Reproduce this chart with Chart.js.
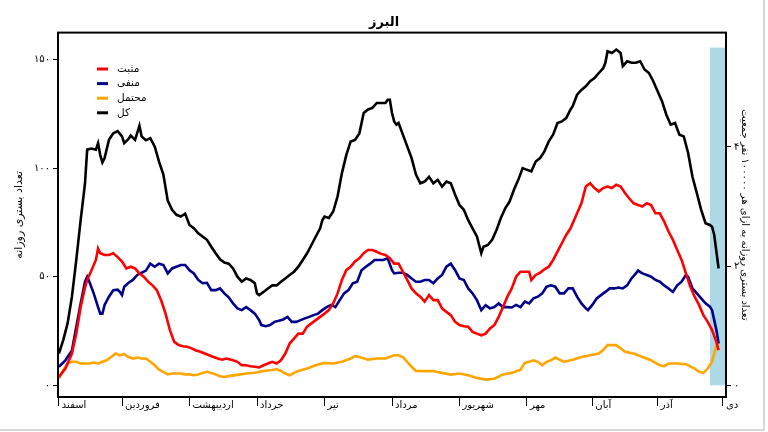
<!DOCTYPE html>
<html>
<head>
<meta charset="utf-8">
<script src="https://cdn.jsdelivr.net/npm/chart.js@4.4.0/dist/chart.umd.min.js"></script>
<style>
  html, body { margin: 0; padding: 0; background: #ffffff; }
  #wrap { width: 768px; height: 432px; position: relative; }
</style>
</head>
<body>
<div id="wrap"><canvas id="c" width="768" height="432"></canvas></div>
<script>
// ---- Data ----
const chartTitle = 'البرز';
const seriesLabels = ['مثبت', 'منفی', 'محتمل', 'کل'];
const seriesColors = ['#ff0000', '#00008b', '#ffa500', '#000000'];

const monthStartDays = [0, 29, 60, 91, 122, 153, 184, 215, 245, 275, 305];
const monthLabels = ['اسفند', 'فروردین', 'اردیبهشت', 'خرداد', 'تیر', 'مرداد', 'شهریور', 'مهر', 'آبان', 'آذر', 'دی'];

const leftTickValues = [0, 50, 100, 150];
const leftTickLabels = ['۰', '۵۰', '۱۰۰', '۱۵۰'];
const rightTickValues = [0, 2, 4];
const rightTickLabels = ['۰', '۲', '۴'];
const leftAxisTitle = 'تعداد بستری روزانه';
const rightAxisTitle = 'تعداد بستری روزانه به ازای هر ۱۰۰۰۰۰ نفر جمعیت';

const shadeStartDay = 299;
const shadeTopValue = 155.5;

const positiveDays = [0,3,6,8,10,12,13,15,17,18,19,21,23,25,27,29,31,33,35,37,39,41,43,45,47,49,51,53,55,57,59,61,63,65,67,69,71,73,75,77,80,82,84,86,88,90,92,94,96,98,100,102,104,106,108,110,112,114,116,118,120,122,124,126,128,130,132,134,136,138,140,142,144,146,148,150,152,154,156,158,160,162,164,166,168,170,172,174,176,178,180,182,184,186,188,190,192,194,196,198,200,202,204,206,208,210,212,214,216,217,219,221,223,225,227,229,231,233,235,236,238,240,242,244,246,248,250,252,254,256,258,260,262,264,266,268,270,272,274,276,278,280,282,284,286,288,290,292,294,296,298,300,302,303];
const positiveValues = [3.8,7.7,14.6,23.8,36,45,48.5,53,57.7,63,60.8,60,60,60.8,59,57,53.8,54.6,53.8,51.5,50,47.7,46,43.8,39,33,25.4,20,18.5,18,17.7,17,16,15.4,14.6,13.8,13,12.3,11.8,12.3,11.5,10.8,9.2,9.2,8.8,8.5,8.2,9.2,10,10.8,10,11.5,14.6,19.2,21.5,23.8,23.8,27,28.5,30,31.5,33,34.6,37.7,42.3,48.5,53,54.6,57,58.5,60.8,62.3,62.3,61.5,60.5,60,58.5,56,56,52.3,48.5,44.6,42.3,40.8,38.5,41.5,39.2,39.2,35.4,33.8,32.3,29.2,27.7,27.2,27,24.6,23.8,23,23.8,26.2,27.7,31.5,36,40.8,44.6,50,52.3,52.3,52.3,48.5,50.8,51.8,53.4,54.6,57.7,61.5,65.4,69.2,72.3,74.6,79.2,83.8,91.5,93,90.8,89.2,90.8,91.5,90.8,92.3,91.5,88.5,86,83.8,83,82.3,83.8,83,79.2,79.2,75.4,70.8,67,62.3,57.7,51.5,45.4,40.8,37,32.3,29.2,25.4,20,16.2];

const negativeDays = [0,3,6,8,10,12,13,14,16,18,19,20,21,23,25,27,28,29,30,32,34,36,38,40,42,44,46,48,50,52,54,56,58,60,62,64,66,68,70,72,74,76,78,80,82,84,86,88,90,92,93,95,97,99,101,103,105,107,109,111,113,115,117,119,121,123,125,127,129,131,133,135,137,139,141,143,145,147,149,151,153,154,156,158,160,162,164,166,168,170,172,174,176,178,180,182,184,186,188,190,192,194,196,198,200,202,204,206,208,210,212,214,216,218,220,222,224,226,228,230,232,234,236,238,240,242,243,245,247,249,251,253,255,257,259,261,263,265,266,268,270,272,274,276,278,280,282,284,286,288,289,291,293,295,297,299,300,302,303];
const negativeValues = [8.5,11.5,16,27,37.7,47.7,50,47.7,42.3,36,33,33,37,40.8,43.8,44,43,41.5,45.4,47.2,48.5,50.8,51.8,52.8,56,54.6,56,55.4,51.5,53.8,54.6,55.4,55.4,53,51.5,48.5,47,47.2,43.8,43.8,44.6,42.3,40.5,37.7,35.4,34.6,36,34.6,33,30,27.7,27.2,27.7,29.2,29.7,30.3,31.5,29.2,29.2,30,30.8,31.5,32.3,33,34.6,36,37,36,39.2,42.3,43.8,47,47.7,53,54.6,56,57.7,57.7,57.7,58.5,53,51.5,51.8,51.8,50.8,49.2,47.7,47.7,48.5,48.5,47,49.2,50.8,54.6,56,53,49.2,48.5,44.6,42.3,39.2,34.6,36.9,35.4,36,37.7,36,36,35.8,37,36,38.5,37.7,40,40.8,42.3,45.4,46,45.4,42.3,42.3,44.6,44.6,40.8,37.7,35.4,34.6,37,40,41.5,43,44.6,44.6,45,44.6,46,49.2,51.5,52.8,51.5,50.8,50,48.5,47.7,46,44.6,43,46,47.7,50.8,50,44.6,42.3,40,37.7,36.2,34.6,25.4,19.2];

const probableDays = [0,2,4,6,8,10,12,14,16,18,20,22,24,26,28,30,32,34,36,38,40,42,44,46,48,50,52,54,56,58,60,62,64,66,68,70,72,74,76,78,82,86,90,94,98,100,102,104,106,108,110,114,118,122,126,130,134,136,138,142,146,150,154,156,158,160,162,164,168,172,176,180,184,188,192,196,200,204,208,212,214,216,218,220,222,224,226,228,232,236,240,244,248,250,252,254,256,258,260,264,268,272,276,278,280,284,288,292,294,296,298,300,302,303];
const probableValues = [3,7,10,10.8,10.8,10,10,10,10.5,10,10.8,11.5,13,14.6,13.8,14.3,13,12.3,12.8,12.3,12.3,10.8,9.2,7.2,6.2,5,5.4,5.4,5.4,5,5,4.6,5,5.7,6.2,5.7,5,4.2,3.8,4.2,4.8,5.4,5.8,6.6,7,7.4,6.6,5.4,4.6,5.7,6.6,7.7,9.2,10.3,10,10.8,12.3,13.4,13,11.8,12.3,12.3,13.8,13.8,13,10.8,8.5,6.6,6.5,6.6,5.7,4.9,5.4,4.6,3.4,2.6,3,5,5.7,7.2,10.3,10.8,11.5,10.8,9.2,10.8,11.5,12.8,10.8,11.8,13,13.8,14.6,16.2,18.5,18.5,18.5,17,15.4,14.6,13,11.5,9.2,8.8,10,10,9.7,7.7,6.2,5.7,7.7,10.8,18.5,20];

const totalDays = [0,2,4,6,8,10,12,13,15,17,18,19,20,21,23,25,27,29,30,32,33,35,37,38,40,42,44,46,48,50,52,54,56,58,60,62,64,66,68,70,72,74,76,78,80,82,84,86,88,90,91,92,94,96,98,100,102,104,106,108,110,112,114,116,118,120,121,122,124,126,128,130,132,134,136,138,140,142,144,146,148,150,151,152,153,154,155,156,158,160,162,164,166,168,170,172,174,176,178,180,182,184,186,188,190,192,194,195,197,199,201,203,205,207,209,211,213,215,217,219,221,223,225,227,229,231,233,235,236,238,240,242,244,246,248,250,251,252,254,256,258,259,261,263,265,267,269,271,273,275,277,279,281,283,285,287,289,291,293,295,297,299,300,301,303];
const totalValues = [14.6,20.8,28.5,40.8,57.7,76,93,108.5,109,108.5,111.5,106,102.6,104.6,113,116,117,114.6,111.5,113.4,115,113,119.5,114.6,112.8,113.8,110,103,97,85,80.8,78.5,77.7,79,73.8,72.3,70,68.5,67,63.8,60.8,58,56.5,56,53.8,50,47.7,49.2,48.5,47,42.3,41.5,43,44.6,46,46,47.7,49.2,50.8,52.3,54.6,57.7,60.8,64.6,68.5,72.3,76,77.7,77,80,87,97.7,106,112.3,113,116,125.4,127,127.7,130,130,130,131.5,131.5,125.4,121.5,120,120.8,115.4,110,104.6,97,93,93.8,96,93,94.6,91.5,93.8,93,87.7,83,80.8,76,72.3,68.5,60.8,63.8,64.6,67,71.5,77,81.5,84.6,90,94.6,100,99.2,98.5,103,104.6,107.7,112.3,115.4,120.8,121.5,123,127,128.5,133.8,136,137.7,140,141.5,143.8,146,148.5,153.8,153,154.6,153,147,149.2,148.5,148.5,149.2,145.4,143.8,140,135.4,130.8,124.6,120,120.8,115.4,114.6,107,96,88.5,80.8,74.6,73.8,73,69.2,53.8];

// ---- Build chart ----
const FONT = "'DejaVu Sans', 'Noto Sans', sans-serif";
const toPoints = (days, vals) => days.map((d, i) => ({ x: d, y: vals[i] }));
const seriesDays = [positiveDays, negativeDays, probableDays, totalDays];
const seriesValues = [positiveValues, negativeValues, probableValues, totalValues];

const datasets = seriesLabels.map((lab, i) => ({
  label: lab,
  data: toPoints(seriesDays[i], seriesValues[i]),
  borderColor: seriesColors[i],
  backgroundColor: seriesColors[i],
  borderWidth: 2.6,
  pointRadius: 0,
  tension: 0,
  fill: false,
  yAxisID: 'y',
  xAxisID: 'x'
}));

const shadePlugin = {
  id: 'shade',
  beforeDatasetsDraw(chart) {
    const { ctx, chartArea, scales } = chart;
    const x0 = scales.x.getPixelForValue(shadeStartDay);
    const y0 = scales.y.getPixelForValue(shadeTopValue);
    const y1 = scales.y.getPixelForValue(0);
    ctx.save();
    ctx.fillStyle = '#add8e6';
    ctx.fillRect(x0, y0, chartArea.right - x0, y1 - y0);
    ctx.restore();
  }
};

const framePlugin = {
  id: 'frame',
  afterDraw(chart) {
    const { ctx, chartArea } = chart;
    ctx.save();
    ctx.strokeStyle = '#000';
    ctx.lineWidth = 2;
    ctx.strokeRect(chartArea.left, chartArea.top, chartArea.right - chartArea.left, chartArea.bottom - chartArea.top);
    ctx.strokeStyle = '#cccccc';
    ctx.lineWidth = 1.5;
    ctx.beginPath();
    ctx.moveTo(764, 0); ctx.lineTo(764, 430);
    ctx.lineTo(0, 430);
    ctx.stroke();
    ctx.restore();
  }
};

const legendPlugin = {
  id: 'insideLegend',
  afterDraw(chart) {
    const { ctx } = chart;
    ctx.save();
    ctx.font = '10.5px ' + FONT;
    ctx.textBaseline = 'middle';
    ctx.textAlign = 'left';
    seriesLabels.forEach((lab, i) => {
      const y = 69 + i * 14.6;
      ctx.strokeStyle = seriesColors[i];
      ctx.lineWidth = 3;
      ctx.beginPath();
      ctx.moveTo(97, y);
      ctx.lineTo(108, y);
      ctx.stroke();
      ctx.fillStyle = '#000';
      ctx.fillText(lab, 117, y);
    });
    ctx.restore();
  }
};

new Chart(document.getElementById('c'), {
  type: 'line',
  data: { datasets },
  plugins: [shadePlugin, framePlugin, legendPlugin],
  options: {
    responsive: false,
    animation: false,
    events: [],
    layout: { padding: 0 },
    plugins: {
      legend: { display: false },
      tooltip: { enabled: false },
      title: {
        display: true,
        text: chartTitle,
        color: '#000',
        font: { family: FONT, size: 13, weight: 'bold' },
        padding: { top: 15, bottom: 2 }
      }
    },
    scales: {
      x: {
        type: 'linear',
        min: -0.4,
        max: 306.4,
        afterBuildTicks: (s) => { s.ticks = monthStartDays.map(v => ({ value: v })); },
        afterFit: (s) => { s.height = 35; },
        border: { display: false },
        grid: { display: true, drawOnChartArea: false, drawTicks: true, tickLength: 9, color: '#000', lineWidth: 1 },
        ticks: {
          autoSkip: false, maxRotation: 0, minRotation: 0,
          align: 'start', labelOffset: 3, padding: -7,
          color: '#000', font: { family: FONT, size: 10 },
          callback: (v, i) => monthLabels[i]
        }
      },
      y: {
        type: 'linear',
        position: 'left',
        min: -5.4,
        max: 162.4,
        afterBuildTicks: (s) => { s.ticks = leftTickValues.map(v => ({ value: v })); },
        afterFit: (s) => { s.width = 58; },
        border: { display: false },
        grid: { display: true, drawOnChartArea: false, drawTicks: true, tickLength: 5, color: '#000', lineWidth: 1 },
        ticks: {
          padding: 3, color: '#000', font: { family: FONT, size: 10 },
          callback: (v, i) => leftTickLabels[i]
        },
        title: {
          display: true, text: leftAxisTitle, color: '#000',
          font: { family: FONT, size: 11 },
          padding: { top: 13, bottom: 0 }
        }
      },
      y2: {
        type: 'linear',
        position: 'right',
        display: true,
        min: -0.197,
        max: 5.92,
        afterBuildTicks: (s) => { s.ticks = rightTickValues.map(v => ({ value: v })); },
        afterFit: (s) => { s.width = 42; },
        border: { display: false },
        grid: { display: true, drawOnChartArea: false, drawTicks: true, tickLength: 5, color: '#000', lineWidth: 1 },
        ticks: {
          padding: 3, color: '#000', font: { family: FONT, size: 10 },
          callback: (v, i) => rightTickLabels[i]
        },
        title: {
          display: true, text: rightAxisTitle, color: '#000',
          font: { family: FONT, size: 10 },
          padding: { top: 17, bottom: 0 }
        }
      }
    }
  }
});
</script>
</body>
</html>
